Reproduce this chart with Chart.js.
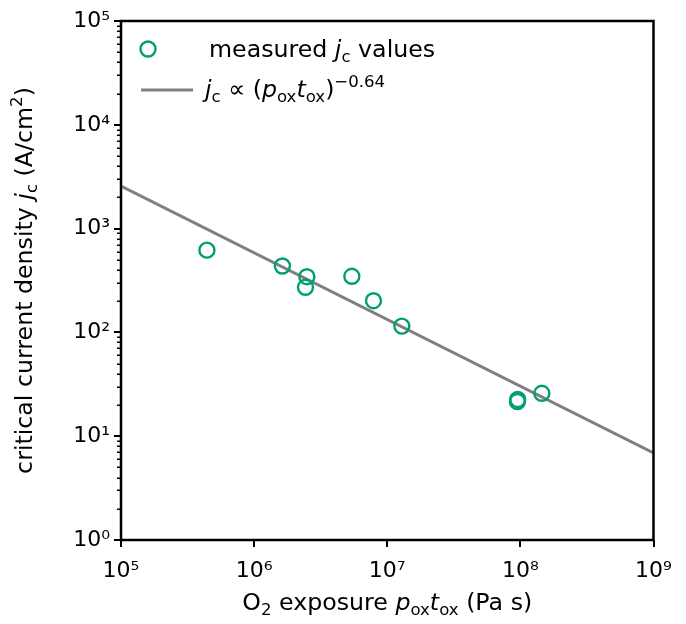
<!DOCTYPE html>
<html><head><meta charset="utf-8">
<script src="https://cdn.jsdelivr.net/npm/chart.js@4"></script>
<style>html,body{margin:0;padding:0;background:#fff}#wrap{width:686px;height:624px}</style>
</head><body><div id="wrap"><canvas id="c" width="686" height="624"></canvas></div>
<script>
// ---- data ----
const exposure = [4.42e5, 1.63e6, 2.49e6, 2.43e6, 5.42e6, 7.88e6, 1.287e7, 9.5e7, 9.55e7, 1.45e8];
const jcValues = [620, 436, 344, 272, 347, 202, 115, 21.6, 22.6, 25.9];
const fitExposure = [1e5, 1e9];
const fitJc = [2570, 6.9];
const xTickValues = [1e5, 1e6, 1e7, 1e8, 1e9];
const xTickLabels = ['10⁵', '10⁶', '10⁷', '10⁸', '10⁹'];
const yTickValues = [1, 10, 100, 1e3, 1e4, 1e5];
const yTickLabels = ['10⁰', '10¹', '10²', '10³', '10⁴', '10⁵'];

const TEAL = '#009E73';
const GRAY = '#808080';
const FAM = "'DejaVu Sans'";
const TXT = 23.7;

function drawRich(ctx, segs, x, y, align, size) {
  let total = 0;
  const items = segs.map(s => {
    const sz = size * (s.scale || 1);
    const font = (s.italic ? 'italic ' : '') + sz + 'px ' + FAM;
    ctx.font = font;
    const w = ctx.measureText(s.t).width;
    total += w;
    return { font, w, t: s.t, dy: (s.dy || 0) * size };
  });
  let cx = align === 'center' ? x - total / 2 : x;
  for (const it of items) {
    ctx.font = it.font;
    ctx.fillText(it.t, cx, y + it.dy);
    cx += it.w;
  }
}
const SUB = { scale: 0.7, dy: 0.22 };
const SUP = { scale: 0.7, dy: -0.42 };

const decor = {
  id: 'decor',
  afterDraw(chart) {
    const ctx = chart.ctx, a = chart.chartArea;
    const ys = chart.scales.y;
    ctx.save();
    // minor ticks on y
    ctx.strokeStyle = '#000';
    ctx.lineWidth = 1.5;
    ctx.beginPath();
    for (let e = 0; e < 5; e++) {
      for (let m = 2; m <= 9; m++) {
        const py = Math.round(ys.getPixelForValue(m * Math.pow(10, e))) + 0.25;
        ctx.moveTo(a.left, py);
        ctx.lineTo(a.left - 4, py);
      }
    }
    ctx.stroke();
    // frame
    ctx.lineWidth = 2.5;
    ctx.strokeRect(a.left, a.top, a.right - a.left, a.bottom - a.top);

    ctx.fillStyle = '#000';
    ctx.textAlign = 'left';
    ctx.textBaseline = 'alphabetic';
    // x title
    drawRich(ctx, [
      { t: 'O' }, Object.assign({ t: '2' }, SUB), { t: ' exposure ' },
      { t: 'p', italic: true }, Object.assign({ t: 'ox' }, SUB),
      { t: 't', italic: true }, Object.assign({ t: 'ox' }, SUB),
      { t: ' (Pa s)' }
    ], (a.left + a.right) / 2, 610, 'center', TXT);
    // y title (rotated)
    ctx.save();
    ctx.translate(32, (a.top + a.bottom) / 2);
    ctx.rotate(-Math.PI / 2);
    drawRich(ctx, [
      { t: 'critical current density ' },
      { t: 'j', italic: true }, Object.assign({ t: 'c' }, SUB),
      { t: ' (A/cm' }, Object.assign({ t: '2' }, SUP), { t: ')' }
    ], 0, 0, 'center', TXT);
    ctx.restore();

    // legend
    ctx.strokeStyle = TEAL;
    ctx.lineWidth = 2.4;
    ctx.beginPath();
    ctx.arc(148, 49, 7.5, 0, Math.PI * 2);
    ctx.stroke();
    ctx.strokeStyle = GRAY;
    ctx.lineWidth = 3;
    ctx.beginPath();
    ctx.moveTo(141, 90);
    ctx.lineTo(193, 90);
    ctx.stroke();
    ctx.fillStyle = '#000';
    drawRich(ctx, [
      { t: 'measured ' }, { t: 'j', italic: true }, Object.assign({ t: 'c' }, SUB), { t: ' values' }
    ], 209, 57, 'left', TXT);
    drawRich(ctx, [
      { t: 'j', italic: true }, Object.assign({ t: 'c' }, SUB), { t: ' ∝ (' },
      { t: 'p', italic: true }, Object.assign({ t: 'ox' }, SUB),
      { t: 't', italic: true }, Object.assign({ t: 'ox' }, SUB),
      { t: ')' }, Object.assign({ t: '−0.64' }, SUP)
    ], 205, 97, 'left', TXT);
    ctx.restore();
  }
};

new Chart(document.getElementById('c'), {
  type: 'scatter',
  data: {
    datasets: [
      {
        label: 'measured jc values',
        data: exposure.map((x, i) => ({ x, y: jcValues[i] })),
        showLine: false,
        pointStyle: 'circle',
        pointRadius: 7.5,
        pointBorderWidth: 2.4,
        pointBorderColor: TEAL,
        pointBackgroundColor: 'rgba(0,0,0,0)',
        order: 0
      },
      {
        type: 'line',
        label: 'fit',
        data: fitExposure.map((x, i) => ({ x, y: fitJc[i] })),
        borderColor: GRAY,
        borderWidth: 3,
        pointRadius: 0,
        fill: false,
        order: 1
      }
    ]
  },
  options: {
    responsive: false,
    animation: false,
    devicePixelRatio: 1,
    layout: { padding: { top: 21, right: 32.5, left: 0, bottom: 0 } },
    plugins: { legend: { display: false }, tooltip: { enabled: false } },
    scales: {
      x: {
        type: 'logarithmic', min: 1e5, max: 1e9, position: 'bottom',
        afterBuildTicks: s => { s.ticks = xTickValues.map(v => ({ value: v, major: true })); },
        afterFit: s => { s.height = 84; },
        ticks: {
          autoSkip: false, maxRotation: 0, padding: 11, color: '#000',
          font: { family: 'DejaVu Sans', size: 22 },
          callback: (v, i) => xTickLabels[i]
        },
        grid: { display: true, drawOnChartArea: false, drawTicks: true, tickLength: 7, color: '#000', lineWidth: 2 },
        border: { display: false }
      },
      y: {
        type: 'logarithmic', min: 1, max: 1e5, position: 'left',
        afterBuildTicks: s => { s.ticks = yTickValues.map(v => ({ value: v, major: true })); },
        afterFit: s => { s.width = 121; },
        ticks: {
          autoSkip: false, padding: 4, color: '#000',
          font: { family: 'DejaVu Sans', size: 22 },
          callback: (v, i) => yTickLabels[i]
        },
        grid: { display: true, drawOnChartArea: false, drawTicks: true, tickLength: 7, color: '#000', lineWidth: 2 },
        border: { display: false }
      }
    }
  },
  plugins: [decor]
});
</script>
</body></html>
